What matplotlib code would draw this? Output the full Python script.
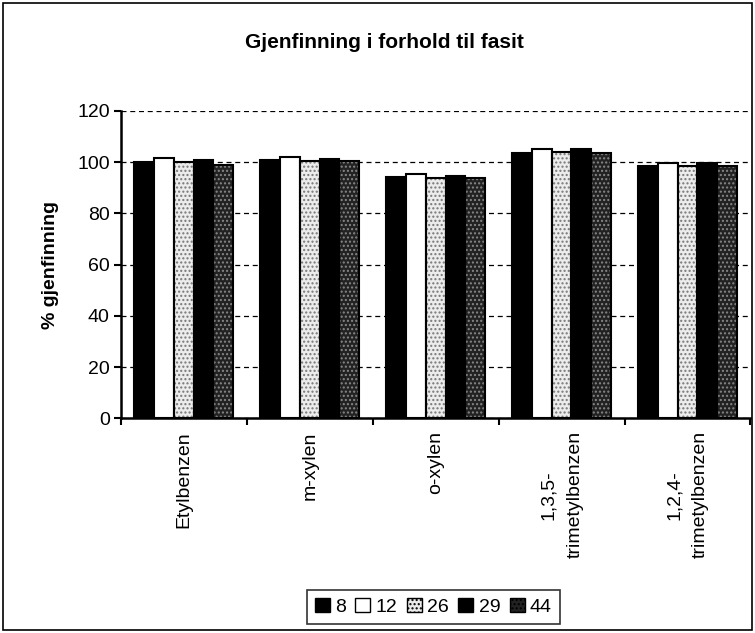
import numpy as np
import matplotlib
matplotlib.use("Agg")
import matplotlib.pyplot as plt
from matplotlib.patches import Rectangle
from matplotlib.transforms import offset_copy

categories = ["Etylbenzen", "m-xylen", "o-xylen", "1,3,5-\ntrimetylbenzen", "1,2,4-\ntrimetylbenzen"]
series = ["8", "12", "26", "29", "44"]
values = {
    "8":  [100.0, 100.8, 94.0, 103.5, 98.5],
    "12": [101.5, 102.0, 95.5, 105.0, 99.8],
    "26": [100.0, 100.5, 93.8, 104.0, 98.3],
    "29": [100.8, 101.3, 94.7, 105.0, 99.6],
    "44": [99.0, 100.4, 93.8, 103.4, 98.5],
}
yticks = [0, 20, 40, 60, 80, 100, 120]

# fill, hatch, hatch colour
styles = {
    "8":  ("black", None, "black"),
    "12": ("white", None, "black"),
    "26": ("#ececec", "....", "#777777"),
    "29": ("black", None, "black"),
    "44": ("#222222", "....", "#888888"),
}

plt.rcParams["font.family"] = ["Liberation Sans", "DejaVu Sans"]
fig = plt.figure(figsize=(7.55, 6.33), dpi=100)
fig.patches.append(Rectangle((0.004, 0.004), 0.992, 0.992, transform=fig.transFigure,
                             fill=False, edgecolor="black", linewidth=1.2))
ax = fig.add_axes([0.160, 0.339, 0.834, 0.486])

x = np.arange(len(categories))
w = 0.157
for i, s in enumerate(series):
    fc, hatch, hc = styles[s]
    pos = x + (i - 2) * w
    if hatch:
        ax.bar(pos, values[s], w, color=fc, edgecolor=hc, hatch=hatch, linewidth=0, zorder=2)
        ax.bar(pos, values[s], w, fill=False, edgecolor="black", linewidth=1.5, zorder=3)
    else:
        ax.bar(pos, values[s], w, color=fc, edgecolor="black", linewidth=1.5, zorder=3)

ax.set_xlim(-0.5, len(categories) - 0.5)
ax.set_ylim(0, 120)
ax.set_yticks(yticks)
ax.yaxis.grid(True, linestyle=(0, (4, 3)), color="black", linewidth=0.9, zorder=0)
ax.set_axisbelow(True)
ax.set_xticks(np.arange(len(categories) + 1) - 0.5)
ax.set_xticklabels([])
ax.tick_params(axis="x", length=5, width=1.5, direction="out")
ax.tick_params(axis="y", length=5, width=1.5, direction="out", labelsize=14, pad=3)
for side in ["top", "right"]:
    ax.spines[side].set_visible(False)
ax.spines["left"].set_linewidth(1.8)
ax.spines["bottom"].set_linewidth(1.8)
ax.set_ylabel("% gjenfinning", fontsize=14, fontweight="bold", labelpad=13)

# category labels, rotated; two-line labels with lines centred on each other
renderer = fig.canvas.get_renderer()
for c, lab in zip(x, categories):
    lines = lab.split("\n")
    if len(lines) == 1:
        ax.text(c, -5, lab, rotation=90, ha="center", va="top", fontsize=14)
        continue
    long_t = ax.text(c, -5, lines[1], rotation=90, ha="center", va="top", fontsize=14,
                     transform=offset_copy(ax.transData, fig=fig, x=9.5, y=0, units="points"))
    bb = long_t.get_window_extent(renderer)
    yc = ax.transData.inverted().transform((0, (bb.y0 + bb.y1) / 2))[1]
    ax.text(c, yc, lines[0], rotation=90, ha="center", va="center", fontsize=14,
            transform=offset_copy(ax.transData, fig=fig, x=-9.5, y=0, units="points"))

fig.text(0.509, 0.933, "Gjenfinning i forhold til fasit", ha="center", va="center",
         fontsize=15, fontweight="bold")

handles = []
for s in series:
    fc, hatch, hc = styles[s]
    handles.append(Rectangle((0, 0), 1, 1, facecolor=fc, edgecolor="black", hatch=hatch, linewidth=1))
leg = fig.legend(handles, series, loc="upper center", bbox_to_anchor=(0.574, 0.068), ncol=5,
                 fontsize=14, frameon=True, fancybox=False, edgecolor="black",
                 handlelength=0.77, handleheight=0.77, handletextpad=0.26, columnspacing=0.5,
                 borderpad=0.4, borderaxespad=0)
leg.get_frame().set_linewidth(1.2)

fig.savefig("out.png", dpi=100)
